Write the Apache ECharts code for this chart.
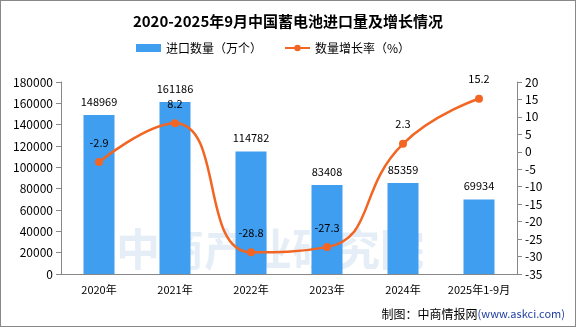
<!DOCTYPE html>
<html><head><meta charset="utf-8">
<script src="https://cdn.jsdelivr.net/npm/echarts@6/dist/echarts.min.js"></script>
<style>html,body{margin:0;padding:0;background:#fff}#c{width:574px;height:325px;border:1px solid #888}</style>
</head><body><div id="c"></div>
<script>
var categories = ['2020年','2021年','2022年','2023年','2024年','2025年1-9月'];
var importVolume = [148969, 161186, 114782, 83408, 85359, 69934];
var growthRate = [-2.9, 8.2, -28.8, -27.3, 2.3, 15.2];
var chart = echarts.init(document.getElementById('c'));
var font = '"Noto Sans CJK SC", sans-serif';
chart.setOption({
  animation: false,
  textStyle: {fontFamily: font},
  title: {text: '2020-2025年9月中国蓄电池进口量及增长情况', left: 'center', top: 8,
    textStyle: {fontSize: 15, fontWeight: 'bold', color: '#000', fontFamily: font}},
  graphic: [{type: 'text', left: 115, top: 226, z: 0, style: {text: '中商产业研究院', fontSize: 44, fontWeight: 'bold', fill: 'rgba(170,200,225,0.3)', fontFamily: font}},
    {type: 'text', right: 10, bottom: 6, style: {rich: {a: {fontSize: 12, fill: '#000', fontFamily: font}, b: {fontSize: 11, fill: '#1f3fa0', fontFamily: font}}, text: '{a|制图：中商情报网}{b|(www.askci.com)}'}}],
  legend: {top: 36, left: 130, itemGap: 22, itemWidth: 25, itemHeight: 8, textStyle: {fontSize: 12, color: '#000'},
    data: [{name: '进口数量（万个）', icon: 'rect'}, {name: '数量增长率（%）'}]},
  grid: {left: 60, right: 58, top: 81, bottom: 52},
  xAxis: {type: 'category', data: categories,
    axisLine: {lineStyle: {color: '#888'}}, axisTick: {lineStyle: {color: '#888'}},
    axisLabel: {color: '#000', fontSize: 11, margin: 10, interval: 0}},
  yAxis: [{type: 'value', min: 0, max: 180000, interval: 20000, splitLine: {show: false},
    axisLine: {show: true, lineStyle: {color: '#888'}}, axisTick: {show: true, lineStyle: {color: '#888'}},
    axisLabel: {color: '#000', fontSize: 12, formatter: function (v) { return String(v); }}},
    {type: 'value', min: -35, max: 20, interval: 5, splitLine: {show: false},
    axisLine: {show: true, lineStyle: {color: '#888'}}, axisTick: {show: true, lineStyle: {color: '#888'}},
    axisLabel: {color: '#000', fontSize: 12}}],
  series: [{name: '进口数量（万个）', type: 'bar', data: importVolume, barWidth: 31,
    itemStyle: {color: '#3f9ef0'}, label: {show: true, position: 'top', color: '#000', fontSize: 11, distance: 8}},
    {name: '数量增长率（%）', type: 'line', yAxisIndex: 1, data: growthRate, smooth: true,
    symbol: 'circle', symbolSize: 8, itemStyle: {color: '#f26522'}, lineStyle: {color: '#f26522', width: 2.5},
    label: {show: true, position: 'top', color: '#000', fontSize: 11, distance: 10}}]
});
</script></body></html>
